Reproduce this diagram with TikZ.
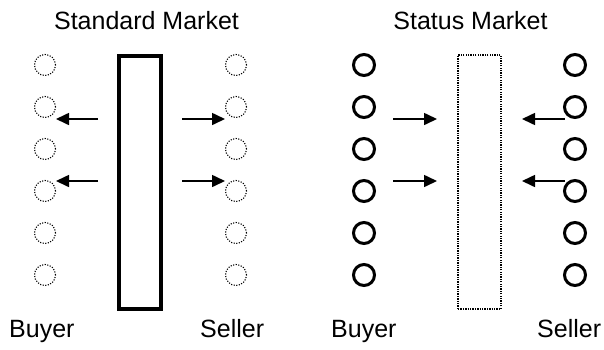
\documentclass[tikz,border=0pt]{standalone}
\usepackage{fontspec}
\setmainfont{Liberation Sans}
\usetikzlibrary{arrows.meta}
\begin{document}
\begin{tikzpicture}[x=1pt,y=-1pt,
  lbl/.style={font=\fontsize{25}{30}\selectfont, inner sep=0pt},
  dcirc/.style={circle, draw, line width=1.1pt, dash pattern=on 1.1pt off 1.5pt, minimum size=21pt, inner sep=0pt},
  bcirc/.style={circle, draw, line width=3pt, minimum size=21pt, inner sep=0pt},
  arr/.style={line width=1.6pt, -{Triangle[length=13pt,width=12pt]}}
]
\useasboundingbox (0,0) rectangle (604,349);
% titles
\node[lbl, anchor=base] (t1) at (146.5,29) {Standard Market};
\node[lbl, anchor=base] (t2) at (470.5,29) {Status Market};
% bottom labels
\node[lbl, anchor=base west] (l1) at (9,337) {Buyer};
\node[lbl, anchor=base west] (l2) at (200,337) {Seller};
\node[lbl, anchor=base west] (l3) at (331,337) {Buyer};
\node[lbl, anchor=base west] (l4) at (537,337) {Seller};
% rectangles
\node[draw, line width=3.5pt, minimum width=42pt, minimum height=253pt, inner sep=0pt] (m1) at (140,182.5) {};
\node[draw, line width=1.3pt, dash pattern=on 1.3pt off 1.1pt, minimum width=43pt, minimum height=254pt, inner sep=0pt] (m2) at (479.5,182) {};
% circles
\foreach \i in {1,...,6} {
  \node[dcirc] (lb\i) at (45,{65+42*(\i-1)}) {};
  \node[dcirc] (ls\i) at (236,{65+42*(\i-1)}) {};
  \node[bcirc] (rb\i) at (364,{65+42*(\i-1)}) {};
  \node[bcirc] (rs\i) at (575,{65+42*(\i-1)}) {};
}
% arrow endpoints
\coordinate (a1s) at (98,119);  \coordinate (a1e) at (56,119);
\coordinate (a2s) at (98,181);  \coordinate (a2e) at (56,181);
\coordinate (a3s) at (182,119); \coordinate (a3e) at (225,119);
\coordinate (a4s) at (182,181); \coordinate (a4e) at (225,181);
\coordinate (a5s) at (393,119); \coordinate (a5e) at (437,119);
\coordinate (a6s) at (393,181); \coordinate (a6e) at (437,181);
\coordinate (a7s) at (565,119); \coordinate (a7e) at (522,119);
\coordinate (a8s) at (565,181); \coordinate (a8e) at (522,181);
\foreach \k in {1,...,8} { \draw[arr] (a\k s) -- (a\k e); }
\end{tikzpicture}
\end{document}
